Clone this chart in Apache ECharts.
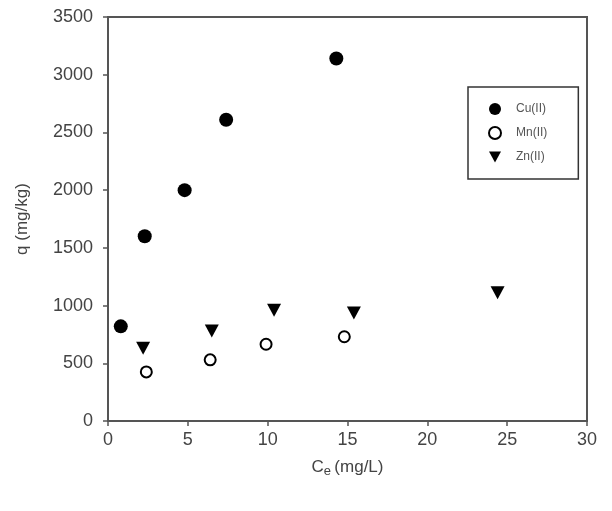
<!DOCTYPE html>
<html>
<head>
<meta charset="utf-8">
<script src="https://cdn.jsdelivr.net/npm/echarts@6/dist/echarts.min.js"></script>
<style>
  html, body { margin: 0; padding: 0; background: #fff; }
  #chart { width: 612px; height: 511px; }
</style>
</head>
<body>
<div id="chart"></div>
<script>
// values: [Ce (mg/L), q (mg/kg)]
const cuData = [[0.8, 820], [2.3, 1600], [4.8, 2000], [7.4, 2610], [14.3, 3140]];
const mnData = [[2.4, 425], [6.4, 530], [9.9, 665], [14.8, 730]];
const znData = [[2.2, 630], [6.5, 780], [10.4, 960], [15.4, 935], [24.4, 1110]];

const seriesNames = ['Cu(II)', 'Mn(II)', 'Zn(II)'];

const font = 'Liberation Sans, Arial, sans-serif';
const downTriangle = 'path://M0,0 L10,0 L5,9 Z';

const chartDom = document.getElementById('chart');
const myChart = echarts.init(chartDom);

const option = {
    animation: false,
    backgroundColor: '#fff',
    grid: {
        left: 108,
        right: 25,
        top: 17,
        bottom: 90,
        show: true,
        borderColor: '#555',
        borderWidth: 2
    },
    legend: {
        orient: 'vertical',
        left: 468,
        top: 87,
        padding: [16, 31, 16, 20],
        itemGap: 11,
        itemWidth: 12,
        itemHeight: 12,
        borderColor: '#333',
        borderWidth: 1.5,
        textStyle: {fontFamily: font, fontSize: 12, color: '#555', padding: [0, 0, 0, 10]},
        data: [
            {name: seriesNames[0], icon: 'circle'},
            {name: seriesNames[1], icon: 'circle'},
            {name: seriesNames[2], icon: downTriangle}
        ]
    },
    xAxis: {
        type: 'value',
        min: 0,
        max: 30,
        interval: 5,
        name: '{c|C}{s|e} {c|(mg/L)}',
        nameLocation: 'middle',
        nameGap: 35,
        nameTextStyle: {
            rich: {
                c: {fontFamily: font, fontSize: 17, color: '#444'},
                s: {fontFamily: font, fontSize: 13, color: '#444', verticalAlign: 'bottom', padding: [9, 0, 0, 0]}
            }
        },
        splitLine: {show: false},
        axisLine: {lineStyle: {color: '#555', width: 2}},
        axisTick: {lineStyle: {color: '#555', width: 1.5}, length: 5},
        axisLabel: {fontFamily: font, fontSize: 18, color: '#444', margin: 10}
    },
    yAxis: {
        type: 'value',
        min: 0,
        max: 3500,
        interval: 500,
        name: 'q (mg/kg)',
        nameLocation: 'middle',
        nameGap: 77,
        nameTextStyle: {fontFamily: font, fontSize: 17, color: '#444'},
        splitLine: {show: false},
        axisLine: {lineStyle: {color: '#555', width: 2}},
        axisTick: {lineStyle: {color: '#555', width: 1.5}, length: 5},
        axisLabel: {fontFamily: font, fontSize: 18, color: '#444', margin: 15, formatter: v => String(v)}
    },
    series: [
        {
            name: seriesNames[0],
            type: 'scatter',
            data: cuData,
            symbol: 'circle',
            symbolSize: 14,
            itemStyle: {color: '#000', opacity: 1}
        },
        {
            name: seriesNames[1],
            type: 'scatter',
            data: mnData,
            symbol: 'circle',
            symbolSize: 11,
            itemStyle: {color: '#fff', borderColor: '#000', borderWidth: 2, opacity: 1}
        },
        {
            name: seriesNames[2],
            type: 'scatter',
            data: znData,
            symbol: downTriangle,
            symbolSize: [14, 13],
            itemStyle: {color: '#000', opacity: 1}
        }
    ]
};

myChart.setOption(option);
</script>
</body>
</html>
